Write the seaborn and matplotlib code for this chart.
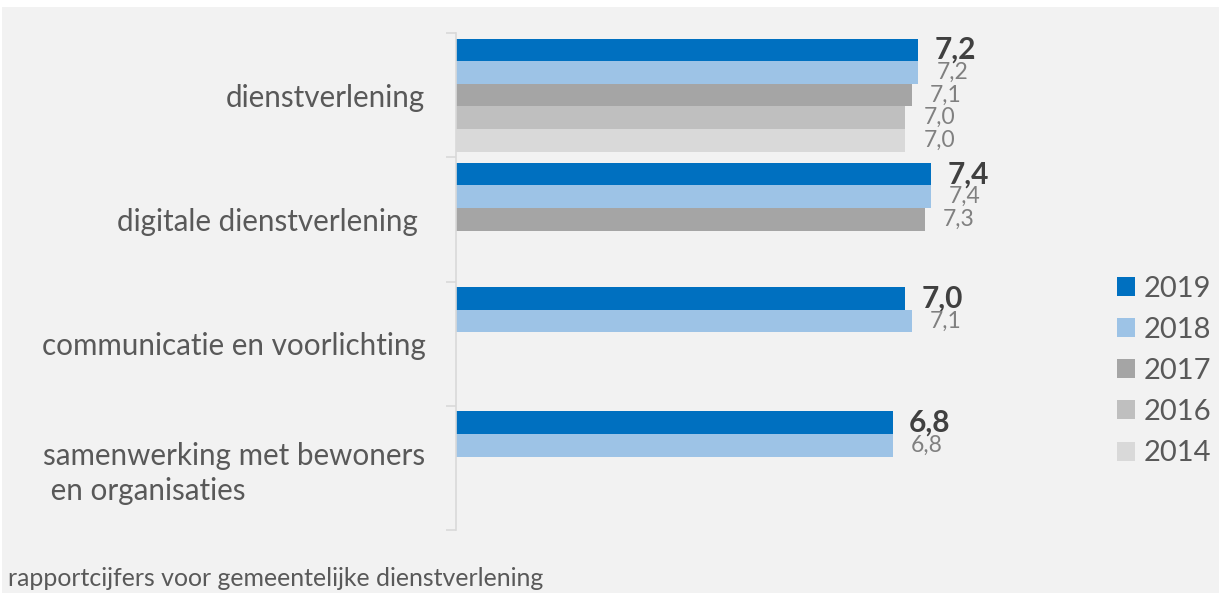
import matplotlib
matplotlib.use("Agg")
import matplotlib.pyplot as plt
from matplotlib.patches import Rectangle
from matplotlib.ticker import FixedLocator
import pandas as pd
import seaborn as sns

# Data
categories = ["dienstverlening", "digitale dienstverlening",
              "communicatie en voorlichting",
              "samenwerking met bewoners en organisaties"]
tick_labels = ["dienstverlening", "digitale dienstverlening ",
               "communicatie en voorlichting",
               "samenwerking met bewoners\n en organisaties"]
years = ["2019", "2018", "2017", "2016", "2014"]
score_2019 = [7.2, 7.4, 7.0, 6.8]
score_2018 = [7.2, 7.4, 7.1, 6.8]
score_2017 = [7.1, 7.3, None, None]
score_2016 = [7.0, None, None, None]
score_2014 = [7.0, None, None, None]
colors = ["#0070c0", "#9dc3e6", "#a5a5a5", "#bfbfbf", "#d9d9d9"]
caption = "rapportcijfers voor gemeentelijke dienstverlening"

scores = dict(zip(years, [score_2019, score_2018, score_2017,
                          score_2016, score_2014]))
rows = []
for year in years:
    for cat, val in zip(categories, scores[year]):
        if val is not None:
            rows.append({"category": cat, "year": year, "score": val})
data = pd.DataFrame(rows)

sns.set_style("white")
plt.rcParams["font.family"] = ["Lato", "DejaVu Sans"]

W, H = 1219, 593
fig = plt.figure(figsize=(W / 100, H / 100), dpi=100, facecolor="white")
fig.add_artist(Rectangle((2 / W, 0), 1, (H - 7) / H, transform=fig.transFigure,
                         facecolor="#f2f2f2", edgecolor="none", zorder=-5))

ax = fig.add_axes([456 / W, 1 - 530 / H, 642 / W, 497 / H])
ax.set_facecolor("none")

sns.barplot(data=data, y="category", x="score", hue="year",
            order=categories, hue_order=years, palette=colors,
            orient="h", width=0.91, saturation=1, errorbar=None,
            linewidth=0, ax=ax)

ax.set_xlim(0, 10)
ax.set_ylim(3.5, -0.5)
ax.set_xlabel("")
ax.set_ylabel("")
ax.set_xticks([])
for side in ["top", "right", "bottom"]:
    ax.spines[side].set_visible(False)
ax.spines["left"].set_color("#d9d9d9")
ax.spines["left"].set_linewidth(1.2)

ax.set_yticks(range(len(categories)))
ax.set_yticklabels(tick_labels)
ax.yaxis.set_minor_locator(FixedLocator([i - 0.5 for i in range(len(categories) + 1)]))
ax.tick_params(axis="y", which="major", length=0, pad=22,
               labelsize=21.3, labelcolor="#595959")
ax.tick_params(axis="y", which="minor", length=7, width=1.2,
               color="#d9d9d9", left=True)
for lbl in ax.get_yticklabels():
    lbl.set_multialignment("left")
    lbl.set_linespacing(1.3)

for i, container in enumerate(ax.containers):
    labels = [f"{v:.1f}".replace(".", ",") for v in container.datavalues]
    if i == 0:
        ax.bar_label(container, labels=labels, padding=12, fontsize=21.5,
                     fontweight="bold", color="#404040")
    else:
        ax.bar_label(container, labels=labels, padding=13, fontsize=16.5,
                     color="#808080")

handles, leg_labels = ax.get_legend_handles_labels()
ax.get_legend().remove()
fig.legend(handles, leg_labels, loc="center left",
           bbox_to_anchor=(1117 / W, 1 - 371 / H), frameon=False,
           fontsize=21, labelcolor="#595959", handlelength=0.62,
           handleheight=0.62, handletextpad=0.3, labelspacing=0.52,
           borderpad=0, borderaxespad=0)

fig.text(8 / W, 7 / H, caption, fontsize=17.9, color="#595959",
         ha="left", va="baseline")

fig.savefig("out.png", dpi=100, facecolor="white")
